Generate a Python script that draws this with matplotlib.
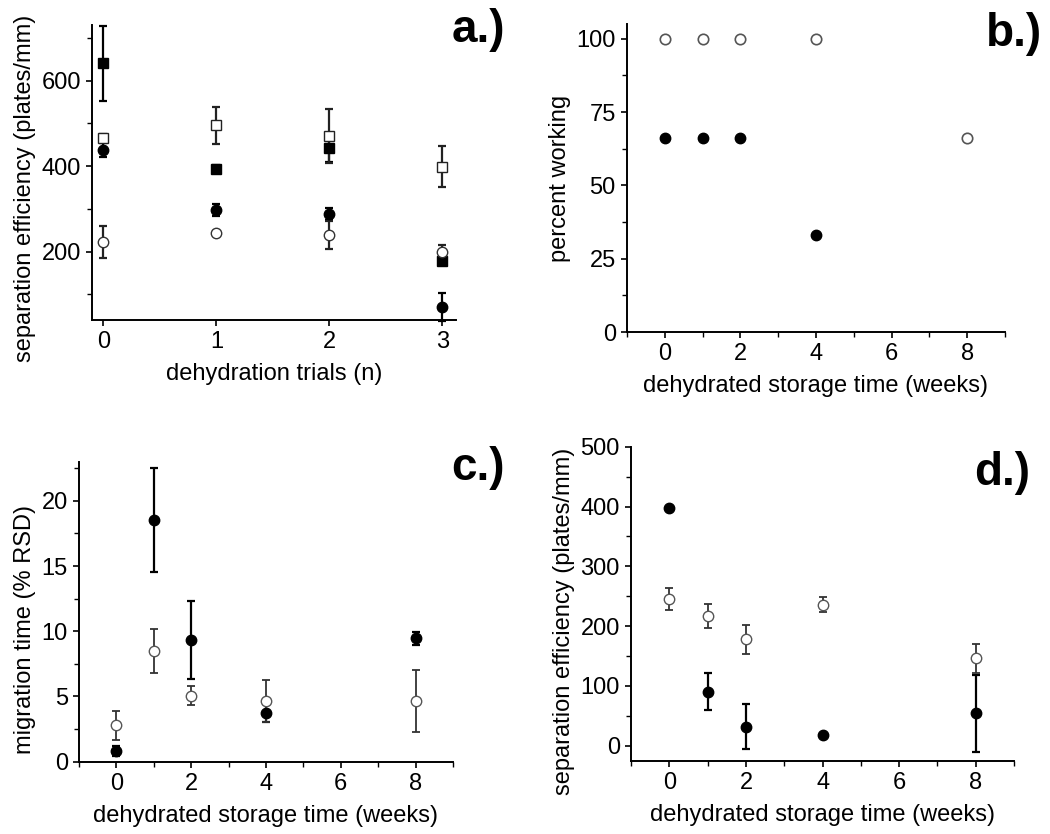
import matplotlib
matplotlib.use("Agg")
import matplotlib.pyplot as plt
from matplotlib.ticker import MultipleLocator

plt.rcParams['font.family'] = ['Liberation Sans', 'DejaVu Sans']

# ---- Panel a data ----
a_x = [0, 1, 2, 3]
a_fsq = [640, 394, 442, 177]
a_fsq_err = [87, 8, 32, 8]
a_osq = [466, 495, 471, 399]
a_osq_err = [8, 43, 63, 47]
a_fci = [438, 298, 287, 70]
a_fci_err = [17, 14, 14, 33]
a_oci = [222, 243, 239, 200]
a_oci_err = [38, 5, 33, 15]

# ---- Panel b data ----
b_open_x = [0, 1, 2, 4, 8]
b_open_y = [100, 100, 100, 100, 66]
b_fill_x = [0, 1, 2, 4]
b_fill_y = [66, 66, 66, 33]

# ---- Panel c data ----
c_x = [0, 1, 2, 4, 8]
c_fill = [0.8, 18.55, 9.35, 3.75, 9.45]
c_fill_err = [0.4, 4.0, 3.0, 0.7, 0.5]
c_open = [2.8, 8.5, 5.05, 4.65, 4.65]
c_open_err = [1.1, 1.7, 0.72, 1.6, 2.4]

# ---- Panel d data ----
d_x = [0, 1, 2, 4, 8]
d_fill = [398, 90, 32, 18, 54]
d_fill_err = [0, 31, 38, 0, 65]
d_open = [245, 217, 178, 236, 146]
d_open_err = [18, 20, 24, 13, 24]

fig = plt.figure(figsize=(10.5, 8.34), dpi=100)

axA = fig.add_axes([0.0876, 0.6163, 0.3467, 0.3537])
axB = fig.add_axes([0.5971, 0.6019, 0.3600, 0.3693])
axC = fig.add_axes([0.0752, 0.0867, 0.3562, 0.3597])
axD = fig.add_axes([0.6010, 0.0879, 0.3648, 0.3765])

GRAY = '#555555'
FS = 17

def style(ax, ylab_y):
    for s in ['top', 'right']:
        ax.spines[s].set_visible(False)
    for s in ['left', 'bottom']:
        ax.spines[s].set_linewidth(1.4)
    ax.tick_params(which='major', direction='out', length=4, width=1.2, labelsize=FS, pad=4)
    ax.tick_params(which='minor', direction='out', length=3.5, width=1.0)
    ax.yaxis.label.set_y(ylab_y)
    ax.xaxis.labelpad = 7

ekw = dict(ls='none', capsize=3, elinewidth=1.6, capthick=1.6)
okw = dict(ls='none', capsize=3, elinewidth=1.3, capthick=1.3)

# Panel a
axA.errorbar(a_x, a_fsq, yerr=a_fsq_err, fmt='s', ms=6.5, mfc='black', mec='black', color='black', clip_on=False, **ekw)
axA.errorbar(a_x, a_osq, yerr=a_osq_err, fmt='s', ms=6.5, mfc='white', mec='#222222', color='#222222', clip_on=False, **ekw)
axA.errorbar(a_x, a_fci, yerr=a_fci_err, fmt='o', ms=7.5, mfc='black', mec='black', color='black', clip_on=False, **ekw)
axA.errorbar(a_x, a_oci, yerr=a_oci_err, fmt='o', ms=7.5, mfc='white', mec='#333333', color='#222222', clip_on=False, **ekw)
axA.set_xlim(-0.1, 3.12)
axA.set_ylim(40, 730)
axA.set_xticks([0, 1, 2, 3])
axA.yaxis.set_major_locator(MultipleLocator(200))
axA.yaxis.set_minor_locator(MultipleLocator(100))
axA.set_xlabel('dehydration trials (n)', fontsize=FS)
axA.set_ylabel('separation efficiency (plates/mm)', fontsize=FS)
style(axA, 0.447)

# Panel b
axB.plot(b_open_x, b_open_y, 'o', ms=7.5, mfc='white', mec=GRAY, mew=1.2)
axB.plot(b_fill_x, b_fill_y, 'o', ms=7.5, mfc='black', mec='black')
axB.set_xlim(-1, 9)
axB.set_ylim(0, 105)
axB.xaxis.set_major_locator(MultipleLocator(2))
axB.xaxis.set_minor_locator(MultipleLocator(1))
axB.yaxis.set_major_locator(MultipleLocator(25))
axB.yaxis.set_minor_locator(MultipleLocator(12.5))
axB.set_xlabel('dehydrated storage time (weeks)', fontsize=FS)
axB.set_ylabel('percent working', fontsize=FS)
style(axB, 0.5)

# Panel c
axC.errorbar(c_x, c_fill, yerr=c_fill_err, fmt='o', ms=7.5, mfc='black', mec='black', color='black', **ekw)
axC.errorbar(c_x, c_open, yerr=c_open_err, fmt='o', ms=7.5, mfc='white', mec=GRAY, color='#333333', **okw)
axC.set_xlim(-1, 9)
axC.set_ylim(0, 23)
axC.xaxis.set_major_locator(MultipleLocator(2))
axC.xaxis.set_minor_locator(MultipleLocator(1))
axC.yaxis.set_major_locator(MultipleLocator(5))
axC.yaxis.set_minor_locator(MultipleLocator(2.5))
axC.set_xlabel('dehydrated storage time (weeks)', fontsize=FS)
axC.set_ylabel('migration time (% RSD)', fontsize=FS)
style(axC, 0.44)

# Panel d
axD.errorbar(d_x, d_fill, yerr=d_fill_err, fmt='o', ms=7.5, mfc='black', mec='black', color='black', **ekw)
axD.errorbar(d_x, d_open, yerr=d_open_err, fmt='o', ms=7.5, mfc='white', mec=GRAY, color='#333333', **okw)
axD.set_xlim(-1, 9)
axD.set_ylim(-25, 500)
axD.xaxis.set_major_locator(MultipleLocator(2))
axD.xaxis.set_minor_locator(MultipleLocator(1))
axD.yaxis.set_major_locator(MultipleLocator(100))
axD.yaxis.set_minor_locator(MultipleLocator(50))
axD.set_xlabel('dehydrated storage time (weeks)', fontsize=FS)
axD.set_ylabel('separation efficiency (plates/mm)', fontsize=FS)
style(axD, 0.445)

# Panel letters
lab = dict(fontsize=33, fontweight='bold', ha='right', va='top')
fig.text(505 / 1050, 1 - 8 / 834, 'a.)', **lab)
fig.text(1042 / 1050, 1 - 12 / 834, 'b.)', **lab)
fig.text(505 / 1050, 1 - 446 / 834, 'c.)', **lab)
fig.text(1030 / 1050, 1 - 451 / 834, 'd.)', **lab)

fig.savefig('out.png', dpi=100)
